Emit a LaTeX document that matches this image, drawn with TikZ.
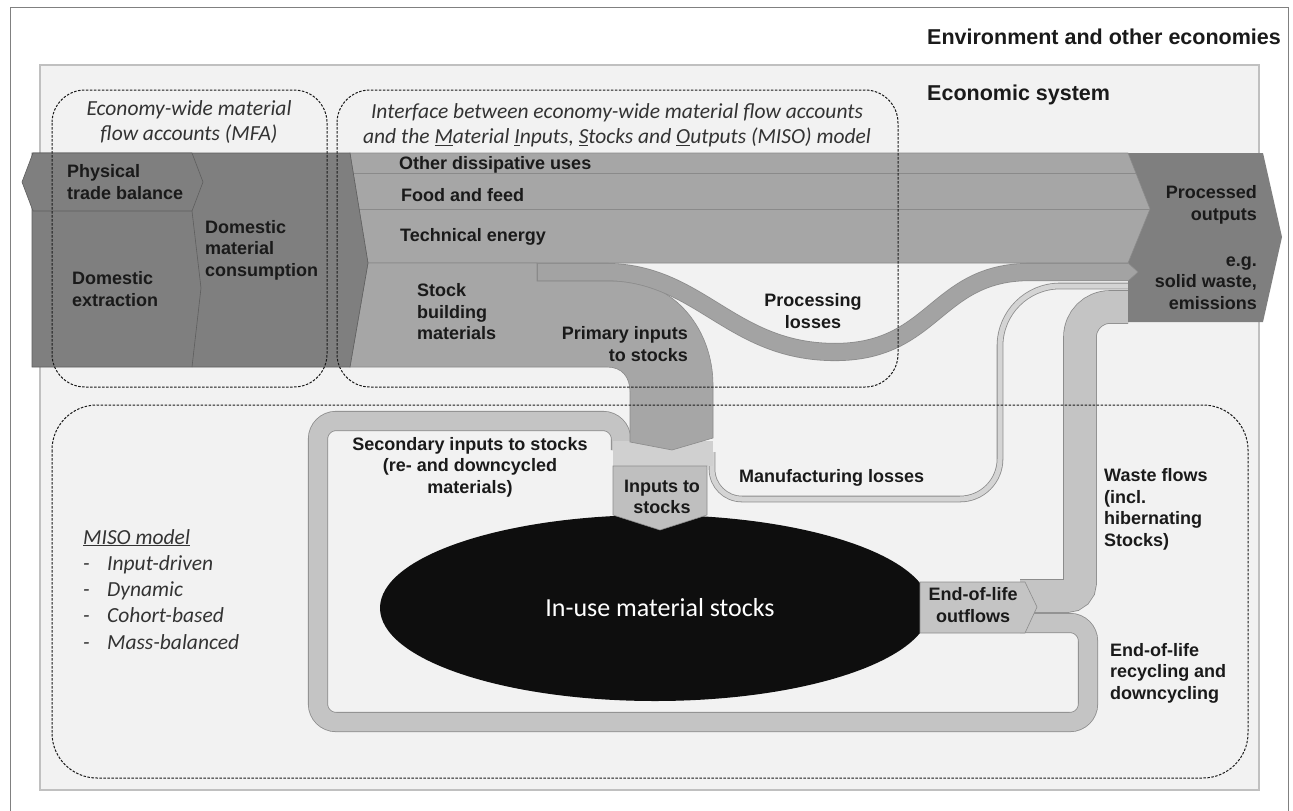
\documentclass[tikz,border=0pt]{standalone}
\usepackage{fontspec}
\newfontfamily\arialfont{Liberation Sans}
\newfontfamily\calfont{Carlito}

\definecolor{econbg}{HTML}{F2F2F2}
\definecolor{econedge}{HTML}{C0C0C0}
\definecolor{framegray}{HTML}{808080}
\definecolor{darkflow}{HTML}{7F7F7F}
\definecolor{darkline}{HTML}{5E5E5E}
\definecolor{lightflow}{HTML}{A6A6A6}
\definecolor{lineflow}{HTML}{8A8A8A}
\definecolor{procgray}{HTML}{A3A3A3}
\definecolor{loopgray}{HTML}{C4C4C4}
\definecolor{bandedge}{HTML}{8C8C8C}
\definecolor{mangray}{HTML}{D4D4D4}
\definecolor{juncgray}{HTML}{D0D0D0}
\definecolor{inputgray}{HTML}{BFBFBF}
\definecolor{stockblack}{HTML}{0E0E0E}
\definecolor{labeltext}{HTML}{1A1A1A}
\definecolor{notetext}{HTML}{333333}

\tikzset{
  lbl/.style={font=\arialfont\bfseries\fontsize{18}{21.5}\selectfont, text=labeltext, inner sep=0pt, align=left},
  note/.style={font=\calfont\itshape\fontsize{21.5}{25}\selectfont, text=notetext, inner sep=0pt, align=center},
  heading/.style={font=\arialfont\bfseries\fontsize{21.5}{25}\selectfont, text=labeltext, inner sep=0pt, anchor=west},
  dashbox/.style={draw=black!90, dash pattern=on 2.5pt off 1.5pt, line width=1pt},
  band/.style={draw=bandedge, line width=0.8pt, double=loopgray, double distance=#1},
  flowshape/.style={fill=#1, draw=lineflow, line width=0.6pt}
}

\begin{document}
\begin{tikzpicture}[x=1pt,y=-1pt]
  \useasboundingbox (0,0) rectangle (1293,811);
  % frames: environment and economic system
  \draw[framegray, line width=1pt] (10,815) -- (10,7) -- (1288,7) -- (1288,815);
  \draw[econedge, fill=econbg, line width=1.5pt] (40,65) rectangle (1259,790);

  % recycling loop back to the inputs
  \draw[band=18.5pt, rounded corners=18pt] (1020,623) -- (1088,623) -- (1088,722) -- (318,722) -- (318,421) -- (621,421) -- (621,450);
  % waste flows up to the processed outputs
  \draw[band=32pt] (1020,596) -- (1067,596) .. controls (1074.2,596) and (1080,590.2) .. (1080,583)
    -- (1080,337) .. controls (1080,320.4) and (1093.4,307) .. (1110,307) -- (1128,307);
  % manufacturing losses
  \draw[band=5pt, double=mangray] (712,452) -- (712,469) .. controls (712,485.6) and (725.4,499) .. (742,499)
    -- (960,499) .. controls (982.1,499) and (1000,481.1) .. (1000,459)
    -- (1000,346) .. controls (1000,312.9) and (1026.9,286) .. (1060,286) -- (1128,286);
  \fill[juncgray] (613,441) rectangle (713,466);

  % processed outputs
  \fill[darkflow] (1128,153) -- (1263,153) -- (1282,237) -- (1263,322) -- (1128,322) -- cycle;

  % upper flows through the economy
  \filldraw[flowshape=lightflow] (350,153) -- (1128,153) -- (1150,209) -- (1128,263) -- (368,263) -- cycle;
  \draw[lineflow, line width=0.6pt] (353,173) -- (1136,173);
  \draw[lineflow, line width=0.6pt] (359,209) -- (1150,209);
  % stock building materials and primary inputs
  \filldraw[flowshape=lightflow] (368,263) -- (537,263) -- (537,281) -- (620,281)
    .. controls (675,281) and (713,330) .. (713,385) -- (713,438) -- (672,450) -- (630,442)
    -- (630,392) .. controls (630,377) and (622,367) .. (607,367) -- (350,367) -- cycle;
  % processing losses
  \draw[band=16.5pt, double=procgray] (537,272) -- (605,272) .. controls (700,272) and (730,352) .. (835,352)
    .. controls (935,352) and (935,272) .. (1030,272) -- (1128,272);
  \draw[lineflow, line width=0.6pt] (537,263) -- (537,281);
  \filldraw[fill=procgray, draw=bandedge, line width=0.6pt] (1128,263) -- (1138,272) -- (1128,281);

  % domestic extraction, trade balance, consumption
  \filldraw[fill=darkflow, draw=darkline, line width=0.6pt] (32,153) -- (350,153) -- (368,263) -- (350,367) -- (32,367) -- cycle;
  \filldraw[fill=darkflow, draw=darkline, line width=0.6pt] (22,182) -- (33,153) -- (192,153) -- (203,182) -- (192,211) -- (33,211) -- cycle;
  \draw[darkline, line width=0.6pt] (192,211) -- (201,288) -- (192,367);

  % in-use stocks with inputs and outflows
  \fill[stockblack] (655,608) ellipse [x radius=275pt, y radius=93pt];
  \filldraw[fill=loopgray, draw=bandedge, line width=0.6pt] (920,582) -- (1025,582) -- (1037,607) -- (1025,633) -- (920,633) -- cycle;
  \filldraw[fill=inputgray, draw=bandedge, line width=0.6pt] (613,466) -- (707,466) -- (707,515) -- (660,530) -- (613,515) -- cycle;

  % dashed system boundaries
  \draw[dashbox, rounded corners=33pt] (52,90) rectangle (327,387);
  \draw[dashbox, rounded corners=33pt] (337,90) rectangle (898,387);
  \draw[dashbox, rounded corners=45pt] (52,405) rectangle (1248,778);

  % headings and notes
  \node[heading] (envtitle) at (927,37) {Environment and other economies};
  \node[heading] (econtitle) at (927,95) {Economic system};
  \node[note] (mfanote) at (189,122.5) {Economy-wide material\\flow accounts (MFA)};
  \node[note] (ifacenote) at (617,125.5) {Interface between economy-wide material flow accounts\\and the \underline{M}aterial \underline{I}nputs, \underline{S}tocks and \underline{O}utputs (MISO) model};

  % flow labels
  \node[lbl, anchor=west] (ptb) at (67,182) {Physical\\trade balance};
  \node[lbl, anchor=west] (de) at (72,289) {Domestic\\extraction};
  \node[lbl, anchor=west] (dmc) at (205,250) {Domestic\\material\\consumption};
  \node[lbl, anchor=west] (other) at (399,165) {Other dissipative uses};
  \node[lbl, anchor=west] (food) at (401,195) {Food and feed};
  \node[lbl, anchor=west] (energy) at (400,237) {Technical energy};
  \node[lbl, anchor=west] (stockbm) at (417,312) {Stock\\building\\materials};
  \node[lbl, anchor=east, align=right] (primary) at (688,344) {Primary inputs\\to stocks};
  \node[lbl, align=center] (proclosses) at (813,311) {Processing\\losses};
  \node[lbl, anchor=east, align=right] (procout) at (1257,205) {Processed\\outputs};
  \node[lbl, anchor=east, align=right] (procex) at (1257,283) {e.g.\\solid waste,\\emissions};
  \node[lbl, align=center] (secondary) at (470,467) {Secondary inputs to stocks\\(re- and downcycled\\materials)};
  \node[lbl, align=center] (inputs) at (662,497) {Inputs to\\stocks};
  \node[lbl, anchor=west] (manlosses) at (739,478) {Manufacturing losses};
  \node[lbl, anchor=west] (waste) at (1104,509.5) {Waste flows\\(incl.\\hibernating\\Stocks)};
  \node[lbl, align=center] (eol) at (973,605) {End-of-life\\outflows};
  \node[lbl, anchor=west] (eolrec) at (1110,673) {End-of-life\\recycling and\\downcycling};
  \node[font=\calfont\fontsize{26}{30}\selectfont, text=white, inner sep=0pt] (stocks) at (660,608) {In-use material stocks};

  % MISO model properties
  \node[note, anchor=base west] (misotitle) at (83,544) {\underline{MISO model}};
  \foreach \txt [count=\i] in {Input-driven, Dynamic, Cohort-based, Mass-balanced} {
    \node[note, anchor=base west] (misodash\i) at (83,{544+26.3*\i}) {-};
    \node[note, anchor=base west] (misoitem\i) at (107,{544+26.3*\i}) {\txt};
  }
\end{tikzpicture}
\end{document}
